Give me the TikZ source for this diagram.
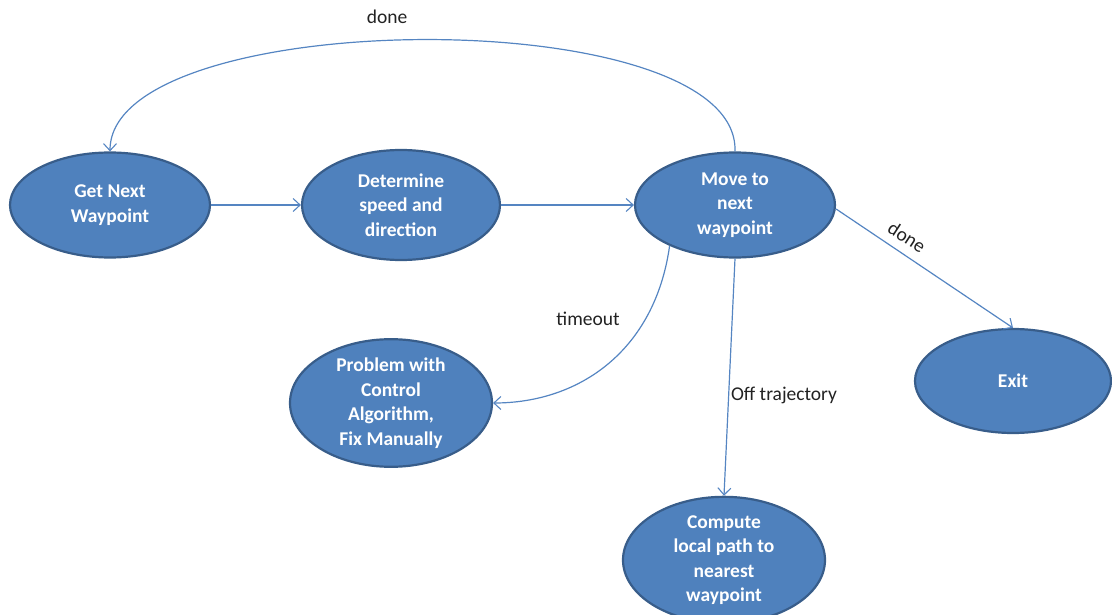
\documentclass[tikz,border=0pt]{standalone}
\usepackage{fontspec}
\setmainfont{Carlito}
\usetikzlibrary{arrows.meta,shapes.geometric}
\definecolor{statefill}{HTML}{4F81BD}
\definecolor{stateedge}{HTML}{385D8A}
\definecolor{linkblue}{HTML}{5585C2}
\definecolor{labeltext}{HTML}{222222}
\tikzset{
  state/.style={ellipse, draw=stateedge, line width=2.2pt, fill=statefill,
    text=white, font=\bfseries\fontsize{19.5}{24.5}\selectfont, align=center,
    inner sep=0pt},
  link/.style={draw=linkblue, line width=1.2pt,
    -{Straight Barb[length=7pt,width=13pt,line width=1.1pt]}},
  lbl/.style={text=labeltext, font=\fontsize{19.5}{22}\selectfont, inner sep=1pt}
}
\begin{document}
\begin{tikzpicture}[x=1pt,y=-1pt]
\useasboundingbox (0,0) rectangle (1112,615);

% states
\node[state, minimum width=200pt, minimum height=105pt] (get) at (110,205) {Get Next\\Waypoint};
\node[state, minimum width=198pt, minimum height=110pt] (det) at (401,205) {Determine\\speed and\\direction};
\node[state, minimum width=200pt, minimum height=105pt] (move) at (735,205) {Move to\\next\\waypoint};
\node[state, minimum width=202pt, minimum height=108pt] (prob) at (391,403) {Problem with\\Control\\Algorithm,\\Fix Manually};
\node[state, minimum width=202pt, minimum height=106pt] (comp) at (724,560) {Compute\\local path to\\nearest\\waypoint};
\node[state, minimum width=196pt, minimum height=104pt] (exit) at (1013,381) {Exit};

% transitions
\draw[link] (get.east) -- (det.west);
\draw[link] (det.east) -- (move.west);
\draw[link] (move.north) .. controls (740,0) and (110,5) .. (get.north);
\draw[link] (move.212) .. controls (655,350) and (580,403) .. (prob.east);
\draw[link] (move.south) -- (comp.north);
\draw[link] (move.east) ++(0,4) coordinate (dstart) -- (exit.north);

% transition labels
\node[lbl] (ldone) at (387,17) {done};
\node[lbl] (ltime) at (588,319) {timeout};
\node[lbl] (loff) at (784,395) {Off trajectory};
\node[lbl, rotate=-33] (ldone2) at (907,237) {done};
\end{tikzpicture}
\end{document}
